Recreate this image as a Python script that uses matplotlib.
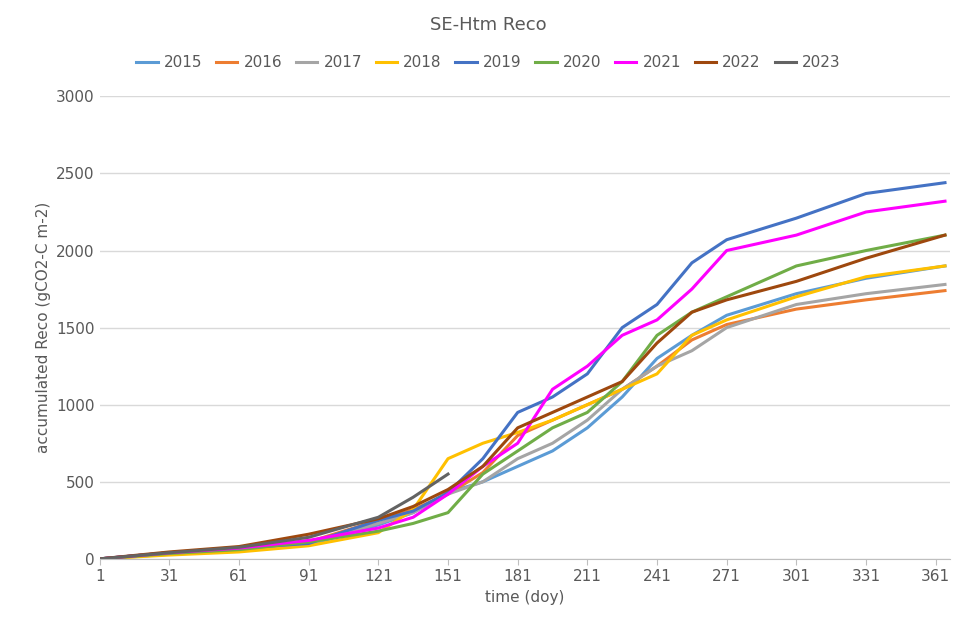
import matplotlib
matplotlib.use("Agg")
import matplotlib.pyplot as plt

days = [1,31,61,91,121,136,151,166,181,196,211,226,241,256,271,301,331,365]
years = ["2015","2016","2017","2018","2019","2020","2021","2022","2023"]
s2015 = [0,40,65,90,220,300,430,500,600,700,850,1050,1300,1450,1580,1720,1820,1900]
s2016 = [0,35,60,110,250,320,420,560,800,900,1000,1100,1250,1420,1520,1620,1680,1740]
s2017 = [0,30,55,100,230,300,420,500,650,750,900,1100,1250,1350,1500,1650,1720,1780]
s2018 = [0,25,45,85,170,320,650,750,820,900,1000,1100,1200,1450,1550,1700,1830,1900]
s2019 = [0,40,70,100,250,310,430,650,950,1050,1200,1500,1650,1920,2070,2210,2370,2440]
s2020 = [0,35,60,110,180,230,300,550,700,850,950,1150,1450,1600,1700,1900,2000,2100]
s2021 = [0,40,70,120,200,270,420,600,750,1100,1250,1450,1550,1750,2000,2100,2250,2320]
s2022 = [0,45,80,160,260,340,450,600,850,950,1050,1150,1400,1600,1680,1800,1950,2100]
days2023 = [1,31,61,91,121,136,151]
s2023 = [0,40,75,140,270,400,550]
series = [s2015,s2016,s2017,s2018,s2019,s2020,s2021,s2022,s2023]
colors = ["#5B9BD5","#ED7D31","#A5A5A5","#FFC000","#4472C4","#70AD47","#FF00FF","#9E480E","#636363"]
xticks = [1,31,61,91,121,151,181,211,241,271,301,331,361]

fig = plt.figure(figsize=(9.77,6.38), dpi=100)
ax = fig.add_axes([0.102,0.124,0.87,0.725])
for y, s, c in zip(years, series, colors):
    x = days2023 if y == "2023" else days
    ax.plot(x, s, color=c, lw=2.2, label=y)
ax.set_xlim(1,367)
ax.set_ylim(0,3000)
ax.set_yticks(range(0,3001,500))
ax.set_xticks(xticks)
ax.grid(axis="y", color="#D9D9D9", lw=1)
ax.set_axisbelow(True)
for sp in ["top","right","left"]:
    ax.spines[sp].set_visible(False)
ax.spines["bottom"].set_color("#BFBFBF")
ax.tick_params(colors="#595959", labelsize=11, length=0)
ax.tick_params(axis="x", length=4, color="#BFBFBF", direction="out")
ax.set_xlabel("time (doy)", color="#595959", fontsize=11)
ax.set_ylabel("accumulated Reco (gCO2-C m-2)", color="#595959", fontsize=11)
fig.suptitle("SE-Htm Reco", y=0.975, color="#595959", fontsize=13)
leg = fig.legend(loc="upper center", bbox_to_anchor=(0.5,0.935), ncol=9, frameon=False,
                 fontsize=11, handlelength=1.4, columnspacing=0.9, handletextpad=0.4)
for t in leg.get_texts():
    t.set_color("#595959")
fig.savefig("out.png")
